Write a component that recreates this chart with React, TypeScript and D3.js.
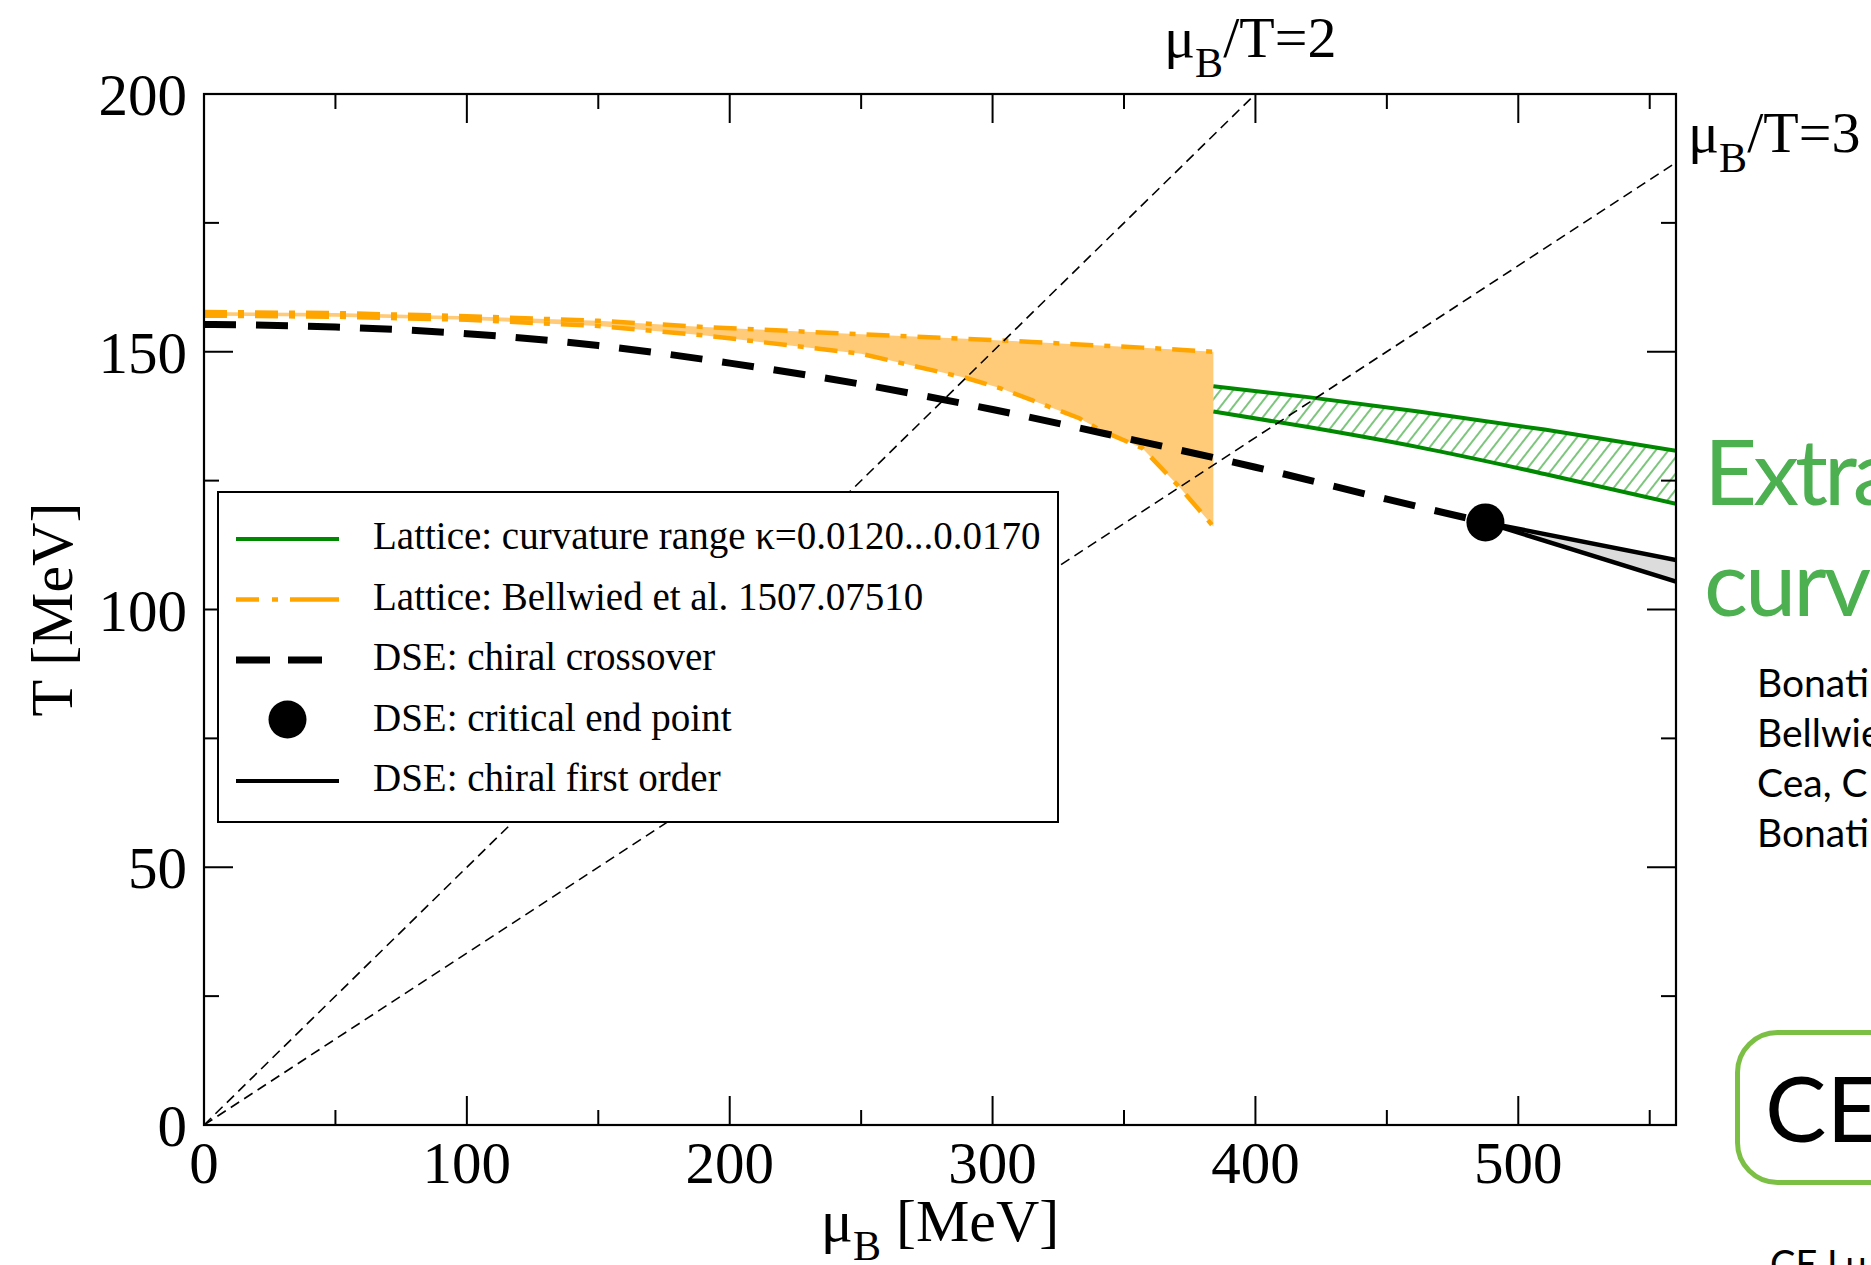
import React from 'react';
import * as d3 from 'd3';

// ---------- data ----------
const muMajorTicks = [0, 100, 200, 300, 400, 500];
const muMinorTicks = [50, 150, 250, 350, 450, 550];
const tMajorTicks = [0, 50, 100, 150, 200];
const tMinorTicks = [25, 75, 125, 175];

// DSE chiral crossover (thick black dashed)
const crossMu = [0, 50, 100, 150, 200, 250, 300, 350, 400, 450, 487.5];
const crossT = [155.3, 154.8, 153.5, 151.2, 147.8, 143.7, 138.8, 133.3, 127.6, 121.4, 116.9];

// Lattice: Bellwied et al. band (orange)
const bellMu = [0, 50, 100, 150, 190, 250, 290, 303, 315, 333, 341, 357, 371, 384];
const bellUpper = [157.7, 157.5, 156.9, 156.0, 154.8, 153.4, 152.5, 152.2, 151.9, 151.4, 151.2, 150.8, 150.4, 150.0];
const bellLower = [157.0, 156.8, 156.2, 155.0, 153.2, 149.6, 144.9, 142.9, 140.6, 137.1, 134.8, 131.3, 123.8, 116.1];

// Lattice curvature range (green hatched band)
const kappaMu = [384, 420, 462, 510, 560];
const kappaUpper = [143.3, 141.2, 138.4, 134.9, 130.8];
const kappaLower = [138.4, 135.4, 131.5, 126.3, 120.5];

// DSE chiral first order (two solid black lines, grey between)
const firstMu = [487.5, 560];
const firstUpper = [116.9, 109.6];
const firstLower = [116.9, 105.4];

// DSE critical end point
const cepMu = 487.5;
const cepT = 116.9;

// mu_B / T = const guide lines
const ratioValues = ['2', '3'];
const ratioMu = [[0, 400], [0, 560]];
const ratioT = [[0, 200], [0, 186.7]];

const legendLabels = [
  'Lattice: curvature range \u03ba=0.0120...0.0170',
  'Lattice: Bellwied et al. 1507.07510',
  'DSE: chiral crossover',
  'DSE: critical end point',
  'DSE: chiral first order',
];

const sideTitle = ['Extra', 'curv'];
const sideRefs = ['Bonati', 'Bellwie', 'Cea, C', 'Bonati'];
const boxLabel = 'CE';
const footLabel = 'CE Lu';

// ---------- layout ----------
const W = 1871;
const H = 1265;
const L = 204, R = 1676, T = 94, B = 1125;
const serif = "'Liberation Serif', 'Times New Roman', Times, serif";
const sans = "Lato, 'Open Sans', sans-serif";

const ORANGE = '#FFA500';
const GREEN = '#008800';

export default function App() {
  const x = d3.scaleLinear().domain([0, 560]).range([L, R]);
  const y = d3.scaleLinear().domain([0, 200]).range([B, T]);

  const line = d3.line<[number, number]>().x(d => x(d[0])).y(d => y(d[1]));
  const smooth = d3.line<[number, number]>().x(d => x(d[0])).y(d => y(d[1])).curve(d3.curveMonotoneX);

  const crossPts = d3.zip(crossMu, crossT) as [number, number][];
  const bellUpPts = d3.zip(bellMu, bellUpper) as [number, number][];
  const bellLoPts = d3.zip(bellMu, bellLower) as [number, number][];
  const kapUpPts = d3.zip(kappaMu, kappaUpper) as [number, number][];
  const kapLoPts = d3.zip(kappaMu, kappaLower) as [number, number][];

  const bellArea = d3.area<number>()
    .x((_, i) => x(bellMu[i]))
    .y0((_, i) => y(bellLower[i]))
    .y1((_, i) => y(bellUpper[i]));
  const kapArea = d3.area<number>()
    .x((_, i) => x(kappaMu[i]))
    .y0((_, i) => y(kappaLower[i]))
    .y1((_, i) => y(kappaUpper[i]))
    .curve(d3.curveMonotoneX);
  const firstArea = d3.area<number>()
    .x((_, i) => x(firstMu[i]))
    .y0((_, i) => y(firstLower[i]))
    .y1((_, i) => y(firstUpper[i]));

  const majorLen = 29, minorLen = 15;

  // legend geometry
  const lgX = 218, lgY = 492, lgW = 840, lgH = 330;
  const lgBase = [549, 609.5, 670, 730.5, 791];
  const sx0 = 236, sx1 = 339, textX = 373;

  return (
    <svg width={W} height={H} viewBox={`0 0 ${W} ${H}`}
      style={{ position: 'absolute', left: 0, top: 0, display: 'block', background: '#fff' }}>
      <defs>
        <pattern id="hatch" patternUnits="userSpaceOnUse" width={10} height={10} patternTransform="rotate(38)">
          <line x1={2} y1={0} x2={2} y2={10} stroke="#45ad45" strokeWidth={1.4} />
        </pattern>
        <clipPath id="plotclip">
          <rect x={L} y={T} width={R - L} height={B - T} />
        </clipPath>
      </defs>
      <rect x={0} y={0} width={W} height={H} fill="#fff" />

      <g clipPath="url(#plotclip)">
        {/* orange band */}
        <path d={bellArea(bellMu) || ''} fill="#FFCB78" stroke="none" />
        {/* green hatched band */}
        <path d={kapArea(kappaMu) || ''} fill="url(#hatch)" stroke="none" />
        <path d={smooth(kapUpPts) || ''} fill="none" stroke={GREEN} strokeWidth={4} />
        <path d={smooth(kapLoPts) || ''} fill="none" stroke={GREEN} strokeWidth={4} />
        {/* orange edges */}
        <path d={line(bellUpPts) || ''} fill="none" stroke={ORANGE} strokeWidth={4.5} strokeDasharray="23 11 6 11" />
        <path d={line(bellLoPts) || ''} fill="none" stroke={ORANGE} strokeWidth={4.5} strokeDasharray="23 11 6 11" />
        {/* ratio guide lines */}
        {ratioMu.map((m, k) => (
          <path key={k}
            d={line(d3.zip(m, ratioT[k]) as [number, number][]) || ''}
            fill="none" stroke="#000" strokeWidth={1.6} strokeDasharray="10 6" />
        ))}
        {/* DSE crossover */}
        <path d={smooth(crossPts) || ''} fill="none" stroke="#000" strokeWidth={7} strokeDasharray="32 20" />
        {/* first order */}
        <path d={firstArea(firstMu) || ''} fill="#dcdcdc" stroke="none" />
        <path d={line(d3.zip(firstMu, firstUpper) as [number, number][]) || ''} fill="none" stroke="#000" strokeWidth={4.5} />
        <path d={line(d3.zip(firstMu, firstLower) as [number, number][]) || ''} fill="none" stroke="#000" strokeWidth={4.5} />
        <circle cx={x(cepMu)} cy={y(cepT)} r={19} fill="#000" />
      </g>

      {/* frame */}
      <rect x={L} y={T} width={R - L} height={B - T} fill="none" stroke="#000" strokeWidth={2.2} />

      {/* x ticks (bottom and top, inward) */}
      {muMajorTicks.map(v => (
        <g key={'xM' + v}>
          <line x1={x(v)} x2={x(v)} y1={B} y2={B - majorLen} stroke="#000" strokeWidth={2} />
          <line x1={x(v)} x2={x(v)} y1={T} y2={T + majorLen} stroke="#000" strokeWidth={2} />
          <text x={x(v)} y={1183} fontFamily={serif} fontSize={59} textAnchor="middle">{v}</text>
        </g>
      ))}
      {muMinorTicks.map(v => (
        <g key={'xm' + v}>
          <line x1={x(v)} x2={x(v)} y1={B} y2={B - minorLen} stroke="#000" strokeWidth={2} />
          <line x1={x(v)} x2={x(v)} y1={T} y2={T + minorLen} stroke="#000" strokeWidth={2} />
        </g>
      ))}
      {/* y ticks (left and right, inward) */}
      {tMajorTicks.map(v => (
        <g key={'yM' + v}>
          <line x1={L} x2={L + majorLen} y1={y(v)} y2={y(v)} stroke="#000" strokeWidth={2} />
          <line x1={R} x2={R - majorLen} y1={y(v)} y2={y(v)} stroke="#000" strokeWidth={2} />
          <text x={187} y={y(v) + 21} fontFamily={serif} fontSize={59} textAnchor="end">{v}</text>
        </g>
      ))}
      {tMinorTicks.map(v => (
        <g key={'ym' + v}>
          <line x1={L} x2={L + minorLen} y1={y(v)} y2={y(v)} stroke="#000" strokeWidth={2} />
          <line x1={R} x2={R - minorLen} y1={y(v)} y2={y(v)} stroke="#000" strokeWidth={2} />
        </g>
      ))}

      {/* axis titles */}
      <text x={(L + R) / 2} y={1241} fontFamily={serif} fontSize={60} textAnchor="middle">
        μ<tspan fontSize={42} dy={19}>B</tspan><tspan dy={-19}> [MeV]</tspan>
      </text>
      <text transform={`translate(72, ${(T + B) / 2}) rotate(-90)`} fontFamily={serif} fontSize={60} textAnchor="middle">T [MeV]</text>

      {/* ratio labels */}
      <text x={1164} y={57} fontFamily={serif} fontSize={58}>
        μ<tspan fontSize={42} dy={20}>B</tspan><tspan dy={-20}>/T={ratioValues[0]}</tspan>
      </text>
      <text x={1688} y={152} fontFamily={serif} fontSize={58}>
        μ<tspan fontSize={42} dy={20}>B</tspan><tspan dy={-20}>/T={ratioValues[1]}</tspan>
      </text>

      {/* legend */}
      <rect x={lgX} y={lgY} width={lgW} height={lgH} fill="#fff" stroke="#000" strokeWidth={2} />
      <line x1={sx0} x2={sx1} y1={lgBase[0] - 10} y2={lgBase[0] - 10} stroke={GREEN} strokeWidth={4} />
      <line x1={sx0} x2={sx1} y1={lgBase[1] - 10} y2={lgBase[1] - 10} stroke={ORANGE} strokeWidth={4.5} strokeDasharray="23 13 6 12 49" />
      <line x1={sx0} x2={322} y1={lgBase[2] - 10} y2={lgBase[2] - 10} stroke="#000" strokeWidth={7} strokeDasharray="34 18" />
      <circle cx={287.5} cy={lgBase[3] - 11} r={19} fill="#000" />
      <line x1={sx0} x2={sx1} y1={lgBase[4] - 10} y2={lgBase[4] - 10} stroke="#000" strokeWidth={4} />
      {legendLabels.map((s, i) => (
        <text key={s} x={textX} y={lgBase[i]} fontFamily={serif} fontSize={39}>{s}</text>
      ))}

      {/* slide text to the right */}
      <text x={1704} y={505} fontFamily={sans} fontSize={92} letterSpacing={-4} fill="#4caf50">{sideTitle[0]}</text>
      <text x={1704} y={616} fontFamily={sans} fontSize={92} letterSpacing={-3} fill="#4caf50">{sideTitle[1]}</text>
      {sideRefs.map((s, i) => (
        <text key={i} x={1757} y={697 + i * 50} fontFamily={sans} fontSize={39} fill="#000">{s}</text>
      ))}
      <rect x={1737.5} y={1032.5} width={300} height={150} rx={40} ry={40} fill="none" stroke="#7cbf45" strokeWidth={5} />
      <text x={1765} y={1142} fontFamily={sans} fontSize={92} fill="#000">{boxLabel}</text>
      <text x={1770} y={1278} fontFamily={sans} fontSize={38} fill="#000">{footLabel}</text>
    </svg>
  );
}
